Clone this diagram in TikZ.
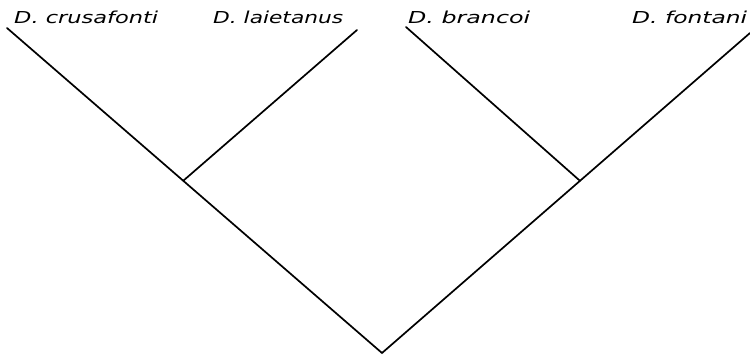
\documentclass[tikz,border=0pt]{standalone}
\usepackage{fontspec}
\setmainfont{DejaVu Sans}
\usetikzlibrary{calc}
\begin{document}
\begin{tikzpicture}[x=1pt,y=-1pt,
  branch/.style={line width=1.7pt,line cap=round},
  taxon/.style={anchor=base west,inner sep=0pt,font=\itshape}]
\useasboundingbox (0,0) rectangle (750,358);
\coordinate (tcru) at (7,28);
\coordinate (tlai) at (357,30);
\coordinate (tbra) at (406,27);
\coordinate (tfon) at (750,33);
\coordinate (root) at (382,353);
\coordinate (jl) at ($(tcru)!0.47!(root)$);
\coordinate (jr) at ($(root)!0.538!(tfon)$);
\node[taxon] (lcru) at (14,24) {\resizebox{144pt}{12.5pt}{D. crusafonti}};
\node[taxon] (llai) at (213,24) {\resizebox{130pt}{12.5pt}{D. laietanus}};
\node[taxon] (lbra) at (408,24) {\resizebox{122pt}{12.5pt}{D. brancoi}};
\node[taxon] (lfon) at (632,24) {\resizebox{115pt}{12.5pt}{D. fontani}};
\draw[branch] (tcru) -- (root) -- (tfon);
\draw[branch] (tlai) -- (jl);
\draw[branch] (tbra) -- (jr);
\end{tikzpicture}
\end{document}
